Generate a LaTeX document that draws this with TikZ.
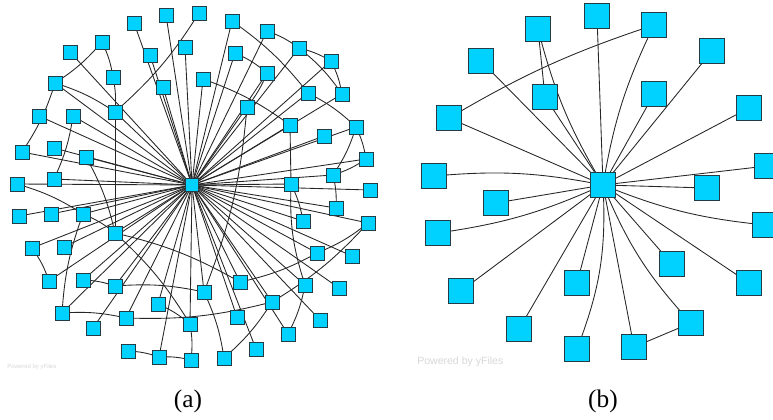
\documentclass[tikz,border=0pt]{standalone}
\usepackage{fontspec}
\setmainfont{Liberation Serif}
\newfontfamily\yfilesfont{Liberation Sans}
\usetikzlibrary{positioning}
\definecolor{nodecyan}{RGB}{0,210,255}
\definecolor{nodeline}{RGB}{35,60,70}
\definecolor{markgray}{RGB}{215,215,215}

\begin{document}
\begin{tikzpicture}[x=0.75pt, y=-0.75pt]
  \tikzstyle{hub} = [rectangle, fill=nodecyan, draw=nodeline, line width=0.7pt, minimum size=9.75pt, inner sep=0pt]
  \tikzstyle{leaf} = [rectangle, fill=nodecyan, draw=nodeline, line width=0.7pt, minimum size=10.5pt, inner sep=0pt]
  \tikzstyle{bighub} = [rectangle, fill=nodecyan, draw=nodeline, line width=0.8pt, minimum size=18.75pt, inner sep=0pt]
  \tikzstyle{bigleaf} = [rectangle, fill=nodecyan, draw=nodeline, line width=0.8pt, minimum size=18.75pt, inner sep=0pt]
  \tikzstyle{link} = [draw=black!85, line width=0.65pt]
  \tikzstyle{caption} = [font=\fontsize{19}{21}\selectfont]
  \tikzstyle{watermark} = [text=markgray, anchor=west, inner sep=0pt]
  \useasboundingbox (0,0) rectangle (773,420);

  % (a) edges first, nodes on top
  \coordinate (acp) at (192,185);
  \foreach \n/\x/\y in {1/134/23, 2/166/15, 3/199/13, 4/232/21, 5/267/31, 6/299/48, 7/331/61,
      8/102/42, 9/70/52, 10/150/55, 11/185/47, 12/235/53, 13/113/77, 14/163/87, 15/203/79,
      16/267/73, 17/55/83, 18/308/93, 19/342/94, 20/247/107, 21/115/112, 22/39/116, 23/73/116,
      24/290/125, 25/356/127, 26/324/136, 27/54/148, 28/22/152, 29/86/157, 30/366/159,
      31/333/175, 32/54/179, 33/17/184, 34/291/184, 35/370/190, 36/336/208, 37/19/216,
      38/51/214, 39/83/214, 40/303/221, 41/368/223, 42/115/233, 43/32/248, 44/64/247,
      45/317/253, 46/352/256, 47/49/281, 48/83/280, 49/240/282, 50/305/285, 51/339/288,
      52/115/286, 53/204/292, 54/272/302, 55/158/304, 56/62/313, 57/237/317, 58/126/318,
      59/320/320, 60/93/328, 61/190/324, 62/288/334, 63/128/351, 64/256/349, 65/159/357,
      66/191/360, 67/224/358}
    \coordinate (p\n) at (\x,\y);
  \foreach \n in {1,2,4,5,6,7,9,10,11,12,14,15,16,17,18,19,20,21,22,23,24,25,26,27,28,29,30,
      31,32,33,34,35,36,37,38,39,40,41,42,43,44,45,46,47,48,49,50,51,52,53,54,55,56,57,58,59,
      60,61,62,64,65}
    \draw[link] (acp) -- (p\n);
  \foreach \s/\t in {3/21, 8/17, 17/28, 17/21, 13/21, 23/32, 29/42, 33/39, 4/18, 5/6, 6/7,
      6/19, 7/19, 12/16, 16/20, 15/24, 18/25, 20/53, 25/30, 25/31, 30/31, 31/36, 34/40,
      41/45, 41/54, 45/49, 50/62, 53/67, 54/67, 54/58, 43/47, 48/52, 52/53, 56/39, 56/58,
      55/61, 61/66, 63/65, 65/66, 42/61, 42/49, 39/42, 8/13}
    \draw[link] (p\s) to[bend left=8] (p\t);
  \draw[link] (p21) -- (p42);
  \draw[link] (p24) -- (p34);
  \draw[link] (p34) to[bend right=10] (p50);

  % (a) nodes
  \node[hub] (ac) at (acp) {};
  \foreach \n in {1,...,67}
    \node[leaf] (a\n) at (p\n) {};

  % (b)
  \coordinate (bcp) at (603,185);
  \foreach \n/\x/\y in {1/538/29, 2/597/16, 3/654/25, 4/481/61, 5/712/51, 6/545/97, 7/654/94,
      8/449/118, 9/749/108, 10/434/176, 11/767/166, 12/707/188, 13/496/203, 14/438/233,
      15/765/225, 16/461/291, 17/672/264, 18/577/283, 19/749/283, 20/519/329, 21/691/323,
      22/577/349, 23/634/347}
    \coordinate (q\n) at (\x,\y);
  \foreach \n in {2,4,5,6,7,8,9,11,12,13,16,17,18,19,20,23}
    \draw[link] (bcp) -- (q\n);
  \draw[link] (bcp) to[bend left=8] (q1);
  \draw[link] (bcp) to[bend left=8] (q3);
  \draw[link] (bcp) to[bend right=8] (q10);
  \draw[link] (bcp) to[bend left=8] (q14);
  \draw[link] (bcp) to[bend right=8] (q15);
  \draw[link] (bcp) to[bend left=12] (q22);
  \draw[link] (bcp) to[bend right=10] (q21);
  \draw[link] (q1) -- (q6);
  \draw[link] (q3) to[bend right=6] (q8);
  \draw[link] (q23) -- (q21);
  \node[bighub] (bc) at (bcp) {};
  \foreach \n in {1,...,23}
    \node[bigleaf] (b\n) at (q\n) {};

  % captions and watermarks
  \node[caption] (capa) at (188,401) {(a)};
  \node[caption] (capb) at (603,401) {(b)};
  \node[watermark, font=\yfilesfont\fontsize{4.5}{5}\selectfont] (marka) at (7,367) {Powered by yFiles};
  \node[watermark, font=\yfilesfont\fontsize{7.9}{9}\selectfont] (markb) at (417,362) {Powered by yFiles};
\end{tikzpicture}
\end{document}
